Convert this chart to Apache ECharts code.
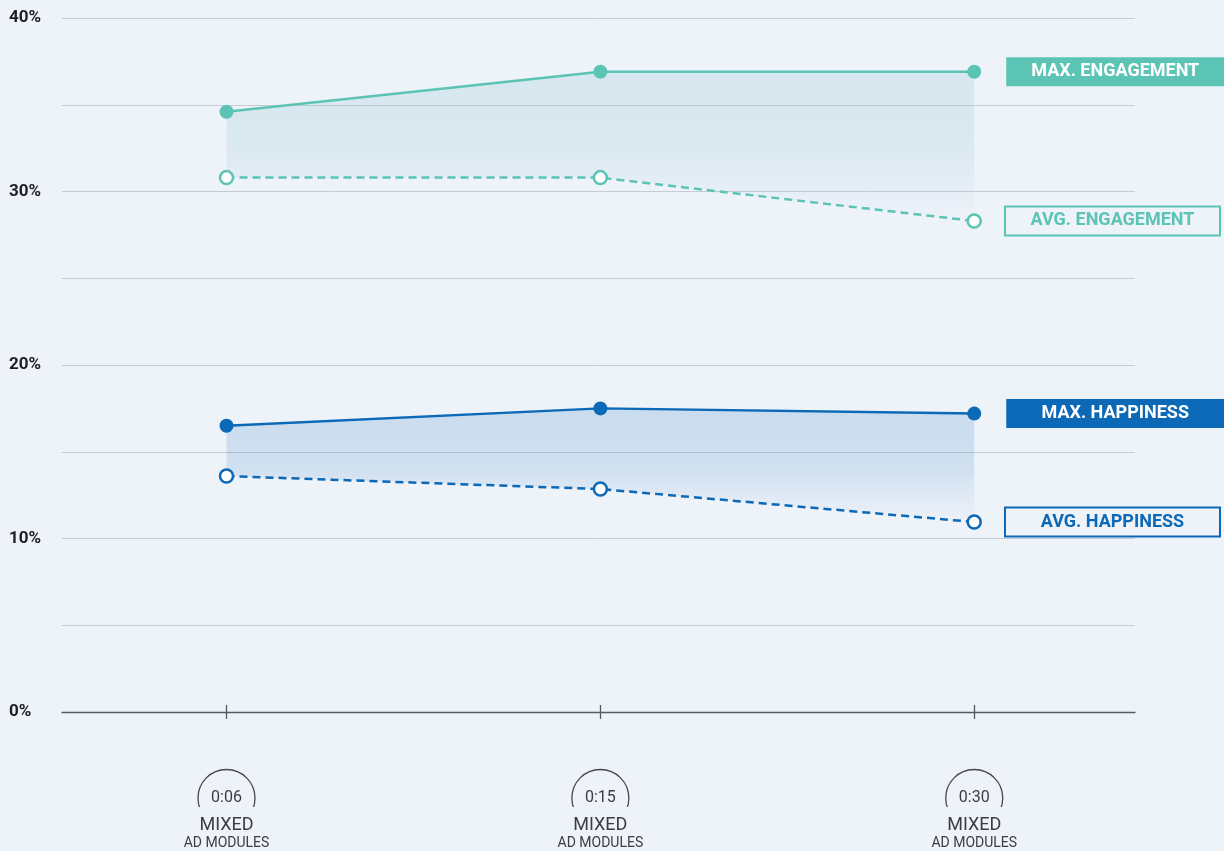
<!DOCTYPE html>
<html>
<head>
<meta charset="utf-8">
<title>Engagement and happiness by ad length</title>
<script src="https://cdn.jsdelivr.net/npm/echarts@6/dist/echarts.min.js"></script>
<style>
  html, body { margin: 0; padding: 0; background: #eef2f9; }
  #chart { width: 1224px; height: 851px; }
</style>
</head>
<body>
<div id="chart"></div>
<script>
// Ad durations on the x axis (positions 0, 1, 2)
const durations = ['0:06', '0:15', '0:30'];
const positions = [0, 1, 2];

// Percent values per duration
const maxEngagement = [34.6, 36.9, 36.9];
const avgEngagement = [30.8, 30.8, 28.3];
const maxHappiness = [16.5, 17.5, 17.2];
const avgHappiness = [13.6, 12.85, 10.95];

// Y axis tick labels
const yTicks = [0, 10, 20, 30, 40];

const TEAL = '#5bc4b4';
const BLUE = '#0b69b7';
const BG = '#eef2f9';
const FONT = 'Roboto';

function pairs(vals) {
  return vals.map((v, i) => [positions[i], v]);
}

// Rows of [x, top, bottom] for a shaded band
function bandRows(top, base) {
  return top.map((v, i) => [positions[i], v, base[i]]);
}

// Attach a boxed tag to the last point of a series
function tagged(vals, text, color, filled) {
  const d = pairs(vals);
  const last = d.length - 1;
  d[last] = {
    value: d[last],
    label: {
      show: true,
      position: 'right',
      distance: filled ? 25 : 24,
      formatter: '{t|' + text + '}',
      rich: {
        t: {
          width: filled ? 218 : 213,
          height: filled ? 29 : 27,
          lineHeight: filled ? 29 : 27,
          align: 'center',
          fontFamily: FONT,
          fontWeight: 'bold',
          fontSize: 18,
          color: filled ? '#ffffff' : color,
          backgroundColor: filled ? color : BG,
          borderColor: color,
          borderWidth: filled ? 0 : 2
        }
      }
    }
  };
  return d;
}

function fillGradient(rgb, a) {
  return new echarts.graphic.LinearGradient(0, 0, 0, 1, [
    { offset: 0, color: 'rgba(' + rgb + ',' + a + ')' },
    { offset: 0.5, color: 'rgba(' + rgb + ',' + (a * 0.85) + ')' },
    { offset: 1, color: 'rgba(' + rgb + ',0)' }
  ]);
}

// Custom series that fills the region between the max and avg lines
function bandSeries(rows, fill) {
  return {
    type: 'custom',
    silent: true,
    z: 1,
    data: rows,
    encode: { x: 0, y: [1, 2] },
    renderItem: function (params, api) {
      if (params.dataIndex !== 0) return null;
      const upper = rows.map(r => api.coord([r[0], r[1]]));
      const lower = rows.map(r => api.coord([r[0], r[2]])).reverse();
      return {
        type: 'polygon',
        shape: { points: upper.concat(lower) },
        style: { fill: fill }
      };
    }
  };
}

const chart = echarts.init(document.getElementById('chart'), null, { renderer: 'canvas' });

const tickStyle = { color: '#555a60', width: 1.3 };

const option = {
  backgroundColor: BG,
  animation: false,
  grid: { left: 62, right: 89, top: 18, bottom: 139, containLabel: false },
  xAxis: [
    {
      type: 'value',
      min: -0.44,
      max: 2.43,
      splitLine: { show: false },
      axisLine: { show: true, onZero: false, lineStyle: tickStyle },
      axisTick: { show: true, customValues: positions, length: 7, lineStyle: tickStyle },
      axisLabel: {
        show: true,
        customValues: positions,
        margin: 69,
        formatter: function (v) {
          const i = positions.indexOf(Math.round(v));
          if (i < 0) return '';
          return '{c|' + durations[i] + '}\n{m|MIXED}\n{s|AD MODULES}';
        },
        rich: {
          c: {
            width: 57, height: 57, lineHeight: 34,
            borderRadius: 30, borderColor: '#44484d', borderWidth: 1.3,
            align: 'center', fontFamily: FONT, fontSize: 16, color: '#3a3d42'
          },
          m: {
            width: 62, height: 36, lineHeight: 20,
            backgroundColor: BG,
            align: 'center', fontFamily: FONT, fontSize: 18, color: '#3a3d42'
          },
          s: {
            lineHeight: 17, align: 'center',
            fontFamily: FONT, fontSize: 14, color: '#3a3d42'
          }
        }
      }
    },
    {
      type: 'value',
      min: -0.44,
      max: 2.43,
      position: 'bottom',
      splitLine: { show: false },
      axisLine: { show: false },
      axisLabel: { show: false },
      axisTick: { show: true, inside: true, customValues: positions, length: 7, lineStyle: tickStyle }
    }
  ],
  yAxis: {
    type: 'value',
    min: 0,
    max: 40,
    interval: 5,
    axisLine: { show: false },
    axisTick: { show: false },
    splitLine: { lineStyle: { color: '#c7cbd4', width: 1 } },
    axisLabel: {
      align: 'left',
      margin: 53,
      padding: [5, 0, 0, 0],
      fontFamily: FONT,
      fontWeight: 'bold',
      fontSize: 17,
      color: '#1d1f22',
      formatter: function (v) { return yTicks.indexOf(v) >= 0 ? v + '%' : ''; }
    }
  },
  series: [
    bandSeries(bandRows(maxEngagement, avgEngagement), fillGradient('150,200,210', 0.26)),
    bandSeries(bandRows(maxHappiness, avgHappiness), fillGradient('10,107,184', 0.16)),
    {
      name: 'MAX. ENGAGEMENT', type: 'line', data: tagged(maxEngagement, 'MAX. ENGAGEMENT', TEAL, true),
      symbol: 'circle', symbolSize: 14, z: 3,
      lineStyle: { color: TEAL, width: 2.5 },
      itemStyle: { color: TEAL, borderWidth: 0 }
    },
    {
      name: 'AVG. ENGAGEMENT', type: 'line', data: tagged(avgEngagement, 'AVG. ENGAGEMENT', TEAL, false),
      symbol: 'circle', symbolSize: 13, z: 3,
      lineStyle: { color: TEAL, width: 2.5, type: [8, 5] },
      itemStyle: { color: '#ffffff', borderColor: TEAL, borderWidth: 2.5 }
    },
    {
      name: 'MAX. HAPPINESS', type: 'line', data: tagged(maxHappiness, 'MAX. HAPPINESS', BLUE, true),
      symbol: 'circle', symbolSize: 14, z: 3,
      lineStyle: { color: BLUE, width: 2.5 },
      itemStyle: { color: BLUE, borderWidth: 0 }
    },
    {
      name: 'AVG. HAPPINESS', type: 'line', data: tagged(avgHappiness, 'AVG. HAPPINESS', BLUE, false),
      symbol: 'circle', symbolSize: 13, z: 3,
      lineStyle: { color: BLUE, width: 2.5, type: [8, 5] },
      itemStyle: { color: '#ffffff', borderColor: BLUE, borderWidth: 2.5 }
    }
  ]
};

chart.setOption(option);
</script>
</body>
</html>
